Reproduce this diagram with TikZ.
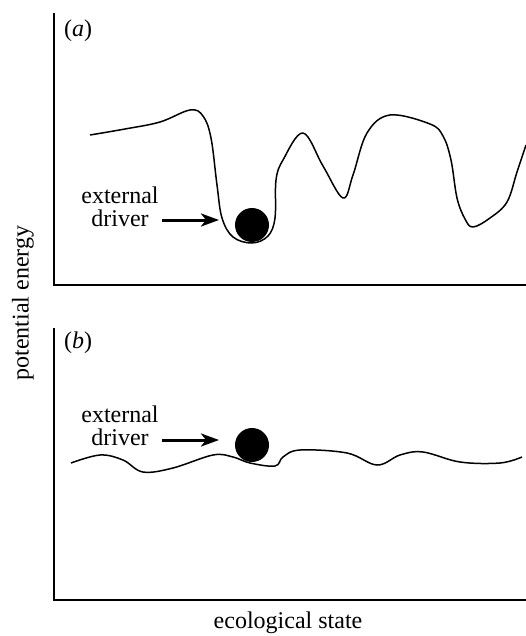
\documentclass[tikz,border=0pt]{standalone}
\usepackage{fontspec}
\setmainfont{Liberation Serif}
\usetikzlibrary{arrows.meta}
\begin{document}
\begin{tikzpicture}[x=1pt,y=-1pt,
  axis/.style={line width=1.3pt},
  curve/.style={line width=1.5pt,line join=round},
  ball/.style={circle,fill=black,inner sep=0pt,minimum size=34pt},
  drv/.style={-{Stealth[length=18pt,width=13pt,inset=5pt]},line width=3pt},
  lbl/.style={font=\fontsize{24}{23}\selectfont,align=center,inner sep=0pt},
  plab/.style={font=\fontsize{24}{23}\selectfont,inner sep=0pt,anchor=west}]
\useasboundingbox (0,0) rectangle (526,636);
% panel a axes
\coordinate (a0) at (54,285);
\coordinate (atop) at (54,13);
\coordinate (aend) at (526,285);
\draw[axis] (atop) -- (a0) -- (aend);
\node[plab] (la) at (64,31) {(\textit{a})};
% curve a
\draw[curve] plot[smooth,tension=0.6] coordinates {(90,135) (125,129) (160,122) (190,110) (203,116) (211,138) (217,185) (222,218) (233,237) (252,243) (268,236) (275,218) (276,180) (283,160) (303,133) (323,166) (343,198) (353,175) (367,133) (390,115) (430,124) (443,136) (451,160) (457,198) (465,219) (473,227) (490,218) (507,202) (517,172) (526,145)};
\node[ball] (ba) at (252,225) {};
\node[lbl] (ta) at (120,207) {external\\driver};
\coordinate (sa) at (162,220);
\coordinate (ea) at (219,220);
\draw[drv] (sa) -- (ea);
% panel b axes
\coordinate (b0) at (54,600);
\coordinate (btop) at (54,328);
\coordinate (bend) at (526,600);
\draw[axis] (btop) -- (b0) -- (bend);
\node[plab] (lb) at (64,343) {(\textit{b})};
% curve b
\draw[curve] plot[smooth,tension=0.6] coordinates {(71,463) (100,455) (123,460) (143,472) (173,468) (213,455) (233,457) (250,463) (275,466) (283,457) (300,450) (347,453) (377,465) (400,455) (423,452) (460,462) (500,463) (522,457)};
\node[ball] (bb) at (252,445) {};
\node[lbl] (tb) at (120,426) {external\\driver};
\coordinate (sb) at (162,440);
\coordinate (eb) at (219,440);
\draw[drv] (sb) -- (eb);
% axis labels
\node[lbl,rotate=90] (ylab) at (23,303) {potential energy};
\node[lbl] (xlab) at (288,623) {ecological state};
\end{tikzpicture}
\end{document}
